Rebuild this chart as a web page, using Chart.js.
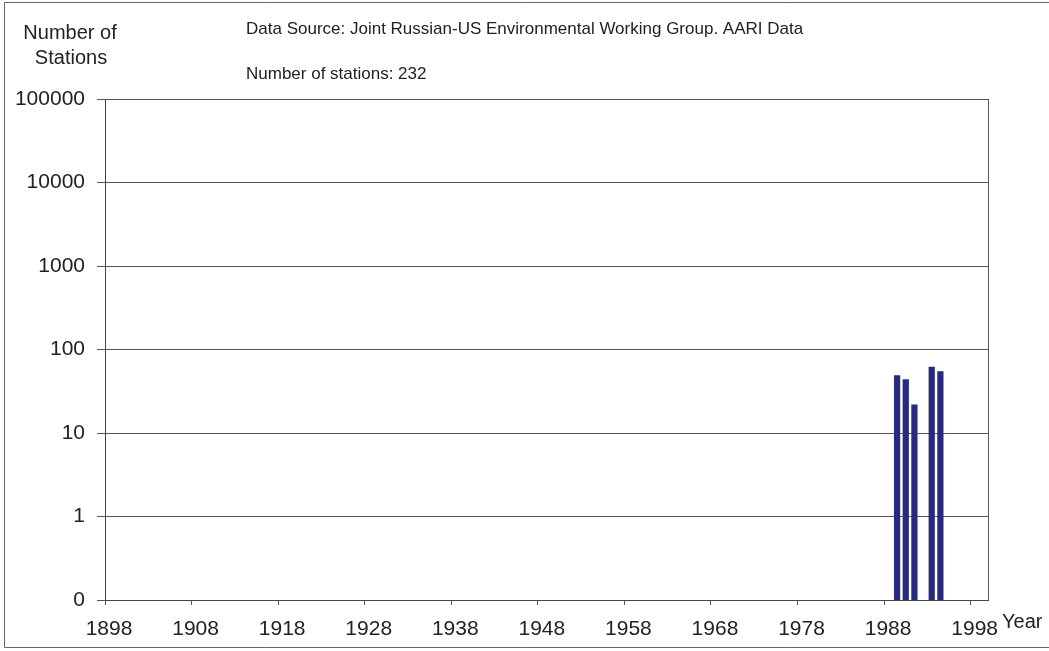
<!DOCTYPE html>
<html>
<head>
<meta charset="utf-8">
<script src="https://cdn.jsdelivr.net/npm/chart.js@4.4.0/dist/chart.umd.min.js"></script>
<style>
  html, body { margin: 0; padding: 0; background: #fff; }
  #wrap { width: 1049px; height: 651px; position: relative; }
</style>
</head>
<body>
<div id="wrap"><canvas id="c" width="1049" height="651"></canvas></div>
<script>
// ---- data ----
const years = [1989, 1990, 1991, 1993, 1994];
const stationCounts = [49, 44, 22, 62, 55];
const yTickValues = [0.1, 1, 10, 100, 1000, 10000, 100000];
const yTickLabels = ['0', '1', '10', '100', '1000', '10000', '100000'];
const xTickYears = [1898, 1908, 1918, 1928, 1938, 1948, 1958, 1968, 1978, 1988, 1998];
const yAxisTitle = ['Number of', 'Stations'];
const sourceText = 'Data Source: Joint Russian-US Environmental Working Group. AARI Data';
const countText = 'Number of stations: 232';
const xAxisTitle = 'Year';

const FONT = '"Liberation Sans", Arial, sans-serif';

const textPlugin = {
  id: 'texts',
  beforeDraw(chart) {
    const ctx = chart.ctx;
    ctx.save();
    ctx.fillStyle = '#fff';
    ctx.fillRect(0, 0, chart.width, chart.height);
    ctx.restore();
  },
  afterDraw(chart) {
    const ctx = chart.ctx;
    const a = chart.chartArea;
    ctx.save();
    // plot border (right side)
    ctx.strokeStyle = '#555';
    ctx.lineWidth = 1;
    ctx.beginPath();
    ctx.moveTo(Math.round(a.right) + 0.5, a.top);
    ctx.lineTo(Math.round(a.right) + 0.5, a.bottom);
    ctx.stroke();
    // outer frame (left, top, bottom)
    ctx.strokeStyle = '#666';
    ctx.beginPath();
    ctx.moveTo(chart.width, 2.5);
    ctx.lineTo(4.5, 2.5);
    ctx.lineTo(4.5, chart.height - 3.5);
    ctx.lineTo(chart.width, chart.height - 3.5);
    ctx.stroke();

    ctx.fillStyle = '#222';
    ctx.textBaseline = 'middle';
    ctx.textAlign = 'center';
    ctx.font = '20px ' + FONT;
    ctx.fillText(yAxisTitle[0], 70, 33);
    ctx.fillText(yAxisTitle[1], 71, 58);

    ctx.textAlign = 'left';
    ctx.font = '17px ' + FONT;
    ctx.fillText(sourceText, 246, 29);
    ctx.fillText(countText, 246, 74);

    ctx.font = '20px ' + FONT;
    ctx.fillText(xAxisTitle, 1002, 622);
    ctx.restore();
  }
};

new Chart(document.getElementById('c'), {
  type: 'bar',
  data: {
    datasets: [{
      label: 'Number of Stations',
      data: years.map((y, i) => ({ x: y + 0.5, y: stationCounts[i] })),
      backgroundColor: '#272b80',
      borderWidth: 0,
      barPercentage: 0.72,
      categoryPercentage: 1.0
    }]
  },
  options: {
    responsive: false,
    animation: false,
    devicePixelRatio: 1,
    layout: { padding: { top: 99, right: 61, left: 0, bottom: 0 } },
    plugins: { legend: { display: false }, tooltip: { enabled: false }, title: { display: false } },
    scales: {
      x: {
        type: 'linear',
        min: 1898,
        max: 2000,
        offset: false,
        afterBuildTicks(scale) { scale.ticks = xTickYears.map(v => ({ value: v })); },
        afterFit(scale) { scale.height = 51; },
        grid: { display: true, offset: false, drawOnChartArea: false, drawTicks: true, tickLength: 5, color: '#555' },
        border: { display: true, color: '#444', width: 1 },
        ticks: {
          autoSkip: false,
          maxRotation: 0,
          padding: 12,
          labelOffset: 4,
          color: '#222',
          font: { family: FONT, size: 21 },
          callback: (v) => String(v)
        }
      },
      y: {
        type: 'logarithmic',
        min: 0.1,
        max: 100000,
        afterBuildTicks(scale) { scale.ticks = yTickValues.map(v => ({ value: v })); },
        afterFit(scale) { scale.width = 105; },
        grid: { display: true, drawOnChartArea: true, drawTicks: true, tickLength: 8, color: '#555', lineWidth: 1 },
        border: { display: true, color: '#444', width: 1 },
        ticks: {
          autoSkip: false,
          padding: 12,
          color: '#222',
          font: { family: FONT, size: 21 },
          callback: (v) => {
            const i = yTickValues.indexOf(v);
            return i >= 0 ? yTickLabels[i] : '';
          }
        }
      }
    }
  },
  plugins: [textPlugin]
});
</script>
</body>
</html>
